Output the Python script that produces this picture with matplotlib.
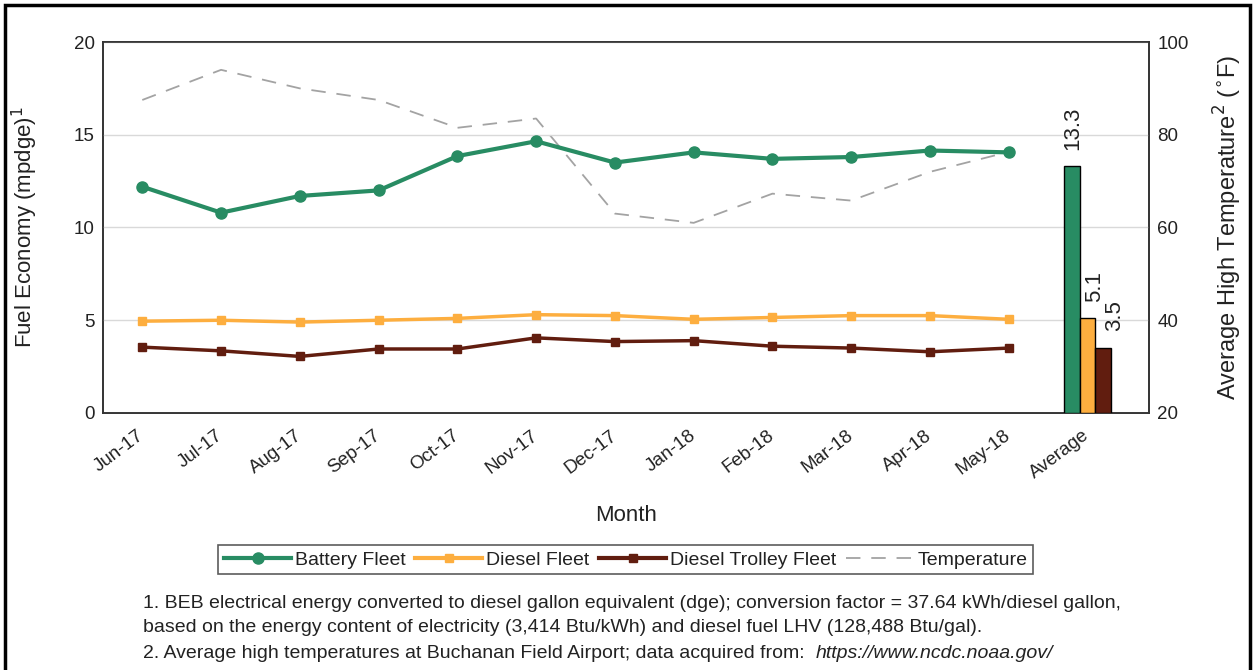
import matplotlib
matplotlib.use("Agg")
import matplotlib.pyplot as plt
import matplotlib.transforms as mtransforms
from matplotlib.patches import Rectangle
from matplotlib.lines import Line2D
import numpy as np

plt.rcParams["font.family"] = ["Liberation Sans", "DejaVu Sans"]

months = ["Jun-17", "Jul-17", "Aug-17", "Sep-17", "Oct-17", "Nov-17",
          "Dec-17", "Jan-18", "Feb-18", "Mar-18", "Apr-18", "May-18"]
battery = [12.2, 10.8, 11.7, 12.0, 13.85, 14.65, 13.5, 14.05, 13.7, 13.8, 14.15, 14.05]
diesel = [4.95, 5.0, 4.9, 5.0, 5.1, 5.3, 5.25, 5.05, 5.15, 5.25, 5.25, 5.05]
trolley = [3.55, 3.35, 3.05, 3.45, 3.45, 4.05, 3.85, 3.9, 3.6, 3.5, 3.3, 3.5]
temperature = [87.5, 94.0, 90.0, 87.5, 81.5, 83.5, 63.0, 61.0, 67.3, 65.8, 72.0, 76.3]
averages = [13.3, 5.1, 3.5]

GREEN = "#288c63"
ORANGE = "#fdae3f"
BROWN = "#611d0f"
GRAY = "#a3a3a3"
TXT = "#222222"
DASH = (0, (8, 6))

fig = plt.figure(figsize=(12.55, 6.70), dpi=100)
ax = fig.add_axes([0.082, 0.3836, 0.8335, 0.5537])
ax2 = ax.twinx()

x = np.arange(len(months))
avg_x = len(months)

ax2.plot(x, temperature, color=GRAY, linestyle=DASH, linewidth=1.3, zorder=2)

ax.plot(x, battery, color=GREEN, marker="o", markersize=8, linewidth=3, zorder=5)
ax.plot(x, diesel, color=ORANGE, marker="s", markersize=6, linewidth=2.5, zorder=5)
ax.plot(x, trolley, color=BROWN, marker="s", markersize=6, linewidth=2.5, zorder=5)

bw = 0.2
bar_colors = [GREEN, ORANGE, BROWN]
offsets = [-0.2, 0.0, 0.2]
label_dx = [1, 5, 8]
for val, col, off, dx in zip(averages, bar_colors, offsets, label_dx):
    ax.bar(avg_x + off, val, width=bw, color=col, edgecolor="black", linewidth=1, zorder=4)
    ax.annotate(f"{val:.1f}", xy=(avg_x + off, val), xytext=(dx, 12),
                textcoords="offset points", rotation=90, ha="center", va="bottom",
                fontsize=16, color=TXT)

# keep the twin axes behind the main one
ax.set_zorder(ax2.get_zorder() + 1)
ax.patch.set_visible(False)

ax.set_xlim(-0.5, 12.78)
ax.set_ylim(0, 20)
ax.set_yticks([0, 5, 10, 15, 20])
ax2.set_ylim(20, 100)
ax2.set_yticks([20, 40, 60, 80, 100])

ax.set_xticks(list(x) + [avg_x])
ax.set_xticklabels(months + ["Average"], rotation=37, ha="right", va="center",
                   rotation_mode="anchor", fontsize=13.5, color=TXT)
shift = mtransforms.ScaledTranslation(6 / 100, 0, fig.dpi_scale_trans)
for lab in ax.get_xticklabels():
    lab.set_transform(lab.get_transform() + shift)
ax.tick_params(axis="x", length=0, pad=15)
ax.tick_params(axis="y", length=0, pad=6, labelsize=13.5, labelcolor=TXT)
ax2.tick_params(axis="y", length=0, pad=6, labelsize=13.5, labelcolor=TXT)

ax.grid(axis="y", color="#d9d9d9", linewidth=1)
ax.set_axisbelow(True)
for a in (ax, ax2):
    for sp in a.spines.values():
        sp.set_color("#333333")
        sp.set_linewidth(1.2)

ax.set_ylabel(r"Fuel Economy (mpdge)$^{1}$", fontsize=16, labelpad=24, color=TXT)
ax2.set_ylabel(r"Average High Temperature$^{2}$ ($^{\circ}$F)", fontsize=17, labelpad=17, color=TXT)
ax.set_xlabel("Month", fontsize=16, labelpad=16, color=TXT)

handles = [
    Line2D([0], [0], color=GREEN, marker="o", markersize=8, linewidth=3, label="Battery Fleet"),
    Line2D([0], [0], color=ORANGE, marker="s", markersize=6, linewidth=3, label="Diesel Fleet"),
    Line2D([0], [0], color=BROWN, marker="s", markersize=6, linewidth=3, label="Diesel Trolley Fleet"),
    Line2D([0], [0], color=GRAY, linestyle=DASH, linewidth=1.3, label="Temperature"),
]
leg = fig.legend(handles=handles, loc="center", bbox_to_anchor=(0.4985, 0.1645), ncol=4,
                 fontsize=14, frameon=True, fancybox=False, edgecolor="#333333",
                 handlelength=3.45, handletextpad=0.2, columnspacing=0.5,
                 borderpad=0.3, borderaxespad=0)
leg.get_frame().set_linewidth(1.2)
for txt in leg.get_texts():
    txt.set_color(TXT)

FS = 14
notes = [
    "1. BEB electrical energy converted to diesel gallon equivalent (dge); conversion factor = 37.64 kWh/diesel gallon,",
    "based on the energy content of electricity (3,414 Btu/kWh) and diesel fuel LHV (128,488 Btu/gal).",
]
fig.text(0.114, 1 - 603 / 670, notes[0], fontsize=FS, va="center", ha="left", color=TXT)
fig.text(0.114, 1 - 628 / 670, notes[1], fontsize=FS, va="center", ha="left", color=TXT)
t = fig.text(0.114, 1 - 654 / 670, "2. Average high temperatures at Buchanan Field Airport; data acquired from:  ",
             fontsize=FS, va="center", ha="left", color=TXT)
fig.canvas.draw()
bb = t.get_window_extent().transformed(fig.transFigure.inverted())
fig.text(bb.x1, 1 - 654 / 670, "https://www.ncdc.noaa.gov/", fontsize=FS,
         va="center", ha="left", style="italic", color=TXT)

# outer frame
fig.add_artist(Rectangle((0.004, -0.01), 0.992, 1.003, transform=fig.transFigure,
                         fill=False, edgecolor="black", linewidth=2.5))

fig.savefig("out.png", dpi=100)
